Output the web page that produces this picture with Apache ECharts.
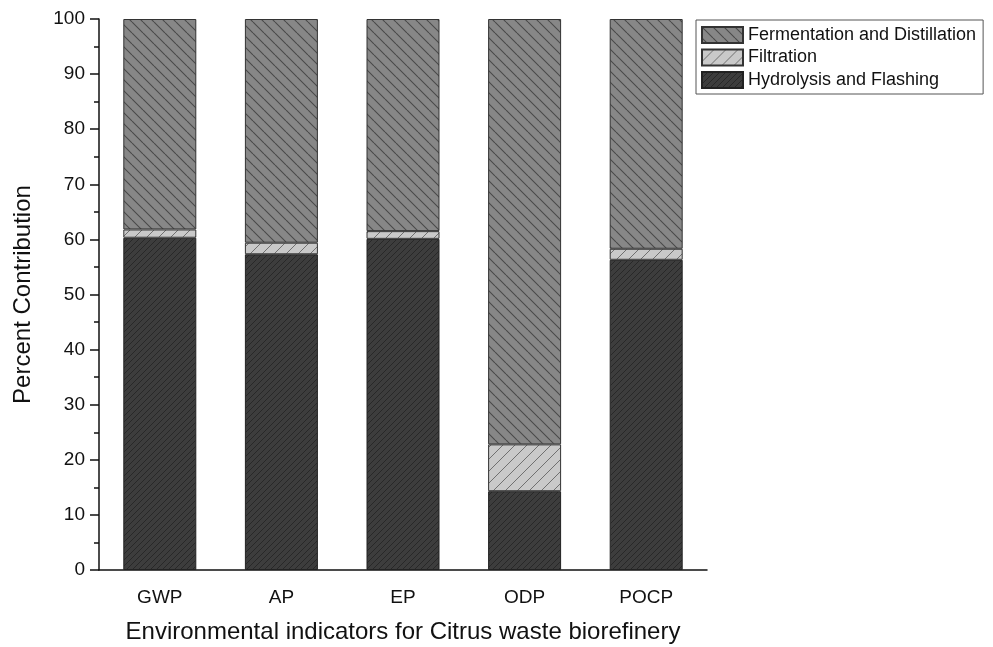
<!DOCTYPE html>
<html>
<head>
<meta charset="utf-8">
<script src="https://cdn.jsdelivr.net/npm/echarts@6/dist/echarts.min.js"></script>
<style>html,body{margin:0;padding:0;background:#fff;}#c{width:993px;height:647px;}</style>
</head>
<body>
<div id="c"></div>
<script>
const categories = ['GWP', 'AP', 'EP', 'ODP', 'POCP'];
const hydrolysis = [60.3, 57.3, 60.1, 14.3, 56.3];
const filtration = [1.5, 2.1, 1.4, 8.5, 2.0];
const fermentation = [38.2, 40.6, 38.5, 77.2, 41.7];
const seriesNames = ['Hydrolysis and Flashing', 'Filtration', 'Fermentation and Distillation'];
const legendOrder = ['Fermentation and Distillation', 'Filtration', 'Hydrolysis and Flashing'];

function hatch(bg, line, s, dir, lw) {
  const c = document.createElement('canvas');
  c.width = s; c.height = s;
  const g = c.getContext('2d');
  g.fillStyle = bg; g.fillRect(0, 0, s, s);
  g.strokeStyle = line; g.lineWidth = lw;
  g.beginPath();
  for (let k = -1; k <= 1; k++) {
    if (dir === '\\') { g.moveTo(k * s, 0); g.lineTo(k * s + s, s); }
    else { g.moveTo(k * s, s); g.lineTo(k * s + s, 0); }
  }
  g.stroke();
  return { image: c, repeat: 'repeat' };
}

const font = 'Liberation Sans, Arial, sans-serif';
const chart = echarts.init(document.getElementById('c'), null, { renderer: 'canvas' });
const styles = [
  { color: hatch('#3d3d3d', '#282828', 6, '/', 1), borderColor: '#222', borderWidth: 1 },
  { color: hatch('#c9c9c9', '#707070', 12, '/', 1), borderColor: '#333', borderWidth: 1 },
  { color: hatch('#878787', '#4a4a4a', 11, '\\', 1.1), borderColor: '#333', borderWidth: 1 }
];
const datas = [hydrolysis, filtration, fermentation];
chart.setOption({
  animation: false,
  backgroundColor: '#fff',
  grid: { left: 99, right: 286, top: 19, bottom: 77, containLabel: false, outerBoundsMode: 'none' },
  legend: {
    data: legendOrder,
    orient: 'vertical',
    left: 696, top: 20,
    icon: 'rect',
    itemWidth: 41, itemHeight: 16, itemGap: 4.5,
    borderColor: '#555', borderWidth: 1,
    padding: [6, 7, 5, 5],
    textStyle: { fontFamily: font, fontSize: 18, color: '#111', lineHeight: 18 }
  },
  xAxis: {
    type: 'category',
    data: categories,
    name: 'Environmental indicators for Citrus waste biorefinery',
    nameLocation: 'middle', nameGap: 50,
    nameTextStyle: { fontFamily: font, fontSize: 24, color: '#111' },
    axisLine: { lineStyle: { color: '#111', width: 1.5 } },
    axisTick: { alignWithLabel: true, length: 8, lineStyle: { color: '#111', width: 1.5 } },
    axisLabel: { fontFamily: font, fontSize: 19, color: '#111', margin: 18 }
  },
  yAxis: {
    type: 'value', min: 0, max: 100, interval: 10,
    name: 'Percent Contribution',
    nameLocation: 'middle', nameGap: 64,
    nameTextStyle: { fontFamily: font, fontSize: 24, color: '#111' },
    splitLine: { show: false },
    axisLine: { show: true, lineStyle: { color: '#111', width: 1.5 } },
    axisTick: { show: true, length: 9, lineStyle: { color: '#111', width: 1.5 } },
    minorTick: { show: true, splitNumber: 2, length: 5, lineStyle: { color: '#111', width: 1.5 } },
    axisLabel: { fontFamily: font, fontSize: 19, color: '#111', margin: 14 }
  },
  series: seriesNames.map((n, i) => ({
    name: n, type: 'bar', stack: 'total', barWidth: 73,
    data: datas[i], itemStyle: styles[i]
  }))
});
</script>
</body>
</html>
